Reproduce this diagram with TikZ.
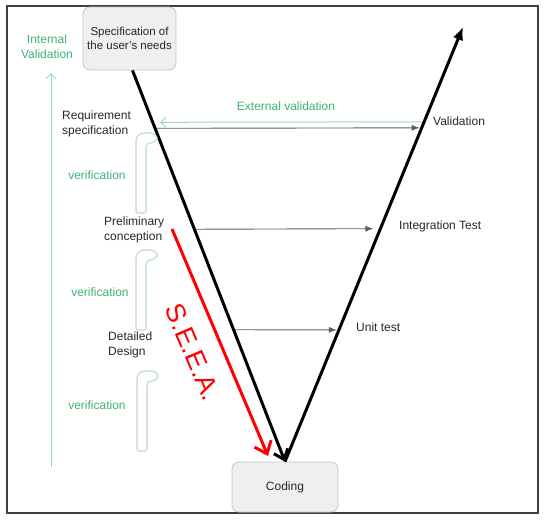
\documentclass[tikz,border=0pt]{standalone}
\usepackage{fontspec}
\setmainfont{Liberation Sans}
\usepackage{xcolor}
\usetikzlibrary{arrows.meta}

\definecolor{seagreen}{RGB}{60,178,115}
\definecolor{palegreen}{RGB}{160,214,190}
\definecolor{hookgray}{RGB}{188,218,208}
\definecolor{boxfill}{RGB}{239,239,239}
\definecolor{boxline}{RGB}{198,198,198}
\definecolor{levelgray}{RGB}{95,95,95}

\tikzset{
    phase/.style={draw=boxline, fill=boxfill, rounded corners=7pt, align=center, line width=0.8pt, text=black!85},
    stage/.style={anchor=west, align=left, text=black!85, inner sep=0pt},
    greenlabel/.style={text=seagreen, align=center, inner sep=0pt},
    vline/.style={line width=3pt, black},
    level/.style={draw=levelgray, line width=0.9pt, -{Latex[length=8pt,width=6pt]}},
    greenarrow/.style={draw=palegreen, line width=1pt, -{Straight Barb[length=5pt,width=10pt]}},
    verifhook/.pic={
        \draw[hookgray, line width=1.1pt] (0,0) [rounded corners=8pt] -- (0,-80) [rounded corners=2pt] -- (17,-80) -- (22,-75) -- (17,-70) [rounded corners=4pt] -- (10,-70) [rounded corners=2pt] -- (10,0) -- cycle;
    }
}

\begin{document}
\begin{tikzpicture}[x=1pt, y=-1pt, font=\fontsize{12}{15}\selectfont]
    \useasboundingbox (0,0) rectangle (547,520);
    \draw[black!75, line width=1.2pt] (7,6) rectangle (538,513);

    \node[phase, minimum width=93pt, minimum height=63pt, font=\fontsize{11.5}{14}\selectfont] (needs) at (129.5,38.5) {Specification of\\the user's needs};
    \node[phase, minimum width=106pt, minimum height=50pt] (coding) at (285,487) {Coding};

    \coordinate (vleft) at ([xshift=3pt]needs.south);
    \coordinate (vright) at (463,27);
    \path (vleft) -- (coding.north) coordinate[pos=0.148] (reqpt) coordinate[pos=0.406] (prept) coordinate[pos=0.663] (detpt);
    \path (coding.north) -- (vright) coordinate[pos=0.768] (valpt) coordinate[pos=0.536] (intpt) coordinate[pos=0.303] (unitpt);

    \draw[level, shorten >=2pt] (reqpt) -- (valpt);
    \draw[level, shorten >=7pt] (prept) -- (intpt);
    \draw[level, shorten >=2pt] (detpt) -- (unitpt);
    \draw[greenarrow] ([shift={(3,-6)}]valpt) -- ([shift={(5,-6)}]reqpt);

    \draw[vline, -{Straight Barb[length=9pt,width=15pt]}] (vleft) -- (coding.north);
    \draw[vline, -{Latex[length=13pt,width=11pt]}] (coding.north) -- (vright);

    \coordinate (seeastart) at (172,229);
    \coordinate (seeaend) at (268,456);
    \draw[red, line width=3pt, -{Straight Barb[length=11pt,width=18pt]}] (seeastart) -- (seeaend);
    \node[text=red, rotate=-67, font=\fontsize{27}{30}\selectfont] (seea) at (193,352) {S.E.E.A.};

    \node[stage] (valtext) at (433,121) {Validation};
    \node[stage] (inttext) at (399,226) {Integration Test};
    \node[stage] (unittext) at (356,327) {Unit test};
    \node[stage] (reqtext) at (62,124) {Requirement\\specification};
    \node[stage] (pretext) at (104,229.5) {Preliminary\\conception};
    \node[stage] (dettext) at (108,345) {Detailed\\Design};

    \node[greenlabel] (extval) at (286,106) {External validation};
    \node[greenlabel] (intval) at (47,47) {Internal\\Validation};
    \coordinate (ivbase) at (51,467);
    \coordinate (ivtop) at (51,73);
    \draw[greenarrow] (ivbase) -- (ivtop);

    \pic at (136,213) {verifhook};
    \pic at (136,330) {verifhook};
    \pic at (137,451) {verifhook};
    \node[greenlabel] (verif1) at (97,175) {verification};
    \node[greenlabel] (verif2) at (100,292) {verification};
    \node[greenlabel] (verif3) at (97,405) {verification};
\end{tikzpicture}
\end{document}
